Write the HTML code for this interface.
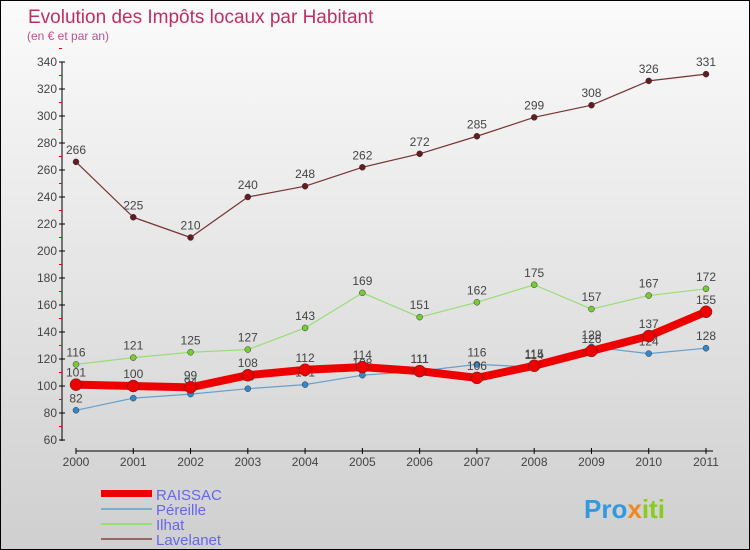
<!DOCTYPE html>
<html><head><meta charset="utf-8"><style>
body{margin:0}
#c{width:750px;height:550px;position:relative;box-sizing:border-box;border:1px solid #000;background:linear-gradient(#fbfbfb,#cfcfcf);font-family:"Liberation Sans",sans-serif;overflow:hidden}
</style></head><body>
<div id="c">
<svg id="s" width="750" height="550" style="position:absolute;left:0;top:0">
<text x="27" y="22" font-size="19" fill="#c0305f">Evolution des Impôts locaux par Habitant</text>
<text x="26" y="39" font-size="12" fill="#c0508f">(en € et par an)</text>
<g id="ax"></g><g id="ser"></g>
<g>
<rect x="100" y="489" width="51" height="7" fill="#e00"/>
<text x="155" y="499" font-size="15" fill="#6666ee">RAISSAC</text>
<rect x="100" y="507" width="51" height="2" fill="#7aaed0"/>
<text x="155" y="514" font-size="15" fill="#6666ee">Péreille</text>
<rect x="100" y="522" width="51" height="2" fill="#99dd77"/>
<text x="155" y="529" font-size="15" fill="#6666ee">Ilhat</text>
<rect x="100" y="537" width="51" height="2" fill="#996666"/>
<text x="155" y="544" font-size="15" fill="#6666ee">Lavelanet</text>
</g>
<text x="583" y="517" font-size="26" font-weight="bold" fill="#3399dd">Pro<tspan fill="#ee8822">x</tspan><tspan fill="#88cc22">iti</tspan></text>
</svg>
</div>
<script>
const years=["2000","2001","2002","2003","2004","2005","2006","2007","2008","2009","2010","2011"];
const yTicks=[60,80,100,120,140,160,180,200,220,240,260,280,300,320,340];
const lavelanet=[266,225,210,240,248,262,272,285,299,308,326,331];
const ilhat=[116,121,125,127,143,169,151,162,175,157,167,172];
const pereille=[82,91,94,98,101,108,111,116,114,129,124,128];
const raissac=[101,100,99,108,112,114,111,106,115,126,137,155];
const NS="http://www.w3.org/2000/svg";
const X=i=>75+i*(630/11);
const Y=v=>439-(v-60)*(378/280);
function mk(t,a,p){const e=document.createElementNS(NS,t);for(const k in a)e.setAttribute(k,a[k]);p.appendChild(e);return e;}
const ax=document.getElementById('ax');
let l=mk('line',{x1:61,y1:61,x2:61,y2:440,stroke:'#000'},ax);


yTicks.forEach(v=>{
 mk('line',{x1:58,y1:Y(v),x2:64,y2:Y(v),stroke:'#000'},ax);
 mk('line',{x1:58,y1:Y(v+10),x2:61,y2:Y(v+10),stroke:'#e00'},ax);
 const t=mk('text',{x:56,y:Y(v)+4,'font-size':12,fill:'#444','text-anchor':'end'},ax);t.textContent=v;
 
 
});
l=mk('line',{x1:75,y1:450,x2:712,y2:450,stroke:'#000'},ax);


years.forEach((y,i)=>{
 mk('line',{x1:X(i),y1:447,x2:X(i),y2:453,stroke:'#000'},ax);
 const t=mk('text',{x:X(i),y:465,'font-size':12,fill:'#444','text-anchor':'middle'},ax);t.textContent=y;
 
 
});
const ser=document.getElementById('ser');
function draw(name,data,col,dot,w,r){
 const g=mk('g',{},ser);
 
 
 const p=mk('polyline',{points:data.map((v,i)=>X(i)+','+Y(v)).join(' '),fill:'none',stroke:col,'stroke-width':w,'stroke-linejoin':'round'},g);
 
 
 data.forEach((v,i)=>{
  const c=mk('circle',{cx:X(i),cy:Y(v),r:r,fill:dot,stroke:'#333','stroke-width':0.5},g);
  
  
  const t=mk('text',{x:X(i),y:Y(v)-8,'font-size':12,fill:'#444','text-anchor':'middle'},g);t.textContent=v;
  
  
 });
}
draw('lavelanet',lavelanet,'#773333','#661a22',1.2,3);
draw('ilhat',ilhat,'#99dd77','#77cc33',1.2,3);
draw('pereille',pereille,'#66a0cc','#3388cc',1.2,3);
draw('raissac',raissac,'#ee0000','#ee0000',8,6);
</script>
</body></html>
